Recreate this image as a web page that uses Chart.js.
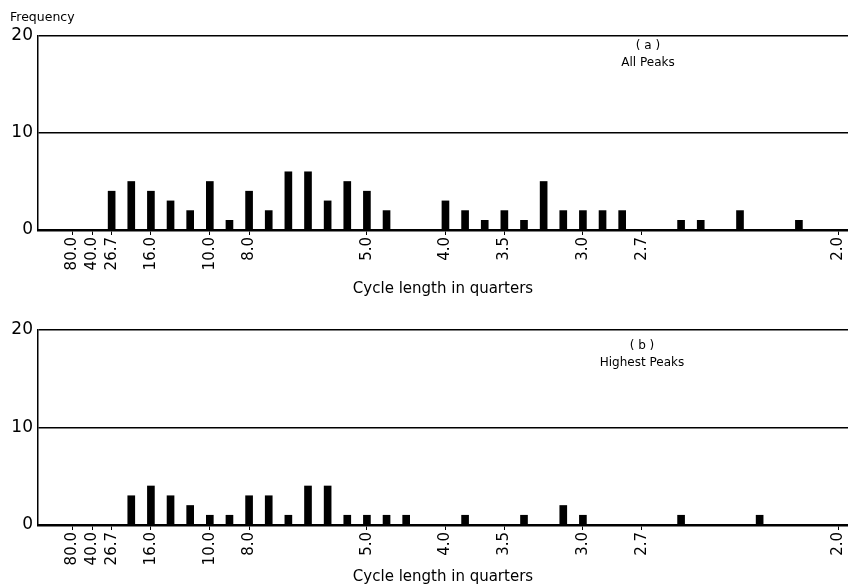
<!DOCTYPE html>
<html>
<head>
<meta charset="utf-8">
<script src="https://cdn.jsdelivr.net/npm/chart.js@4.4.0/dist/chart.umd.min.js"></script>
<style>
  body { margin: 0; background: #fff; font-family: "DejaVu Sans", sans-serif; }
  #wrap { position: relative; width: 848px; height: 588px; overflow: hidden; }
  .panel { position: absolute; left: 0; width: 848px; }
  .lbl { position: absolute; color: #000; white-space: nowrap; }
  .note { position: absolute; text-align: center; font-size: 12px; line-height: 17px; width: 140px; }
</style>
</head>
<body>
<div id="wrap">
  <div class="panel" style="top:0;height:300px"><canvas id="chartA"></canvas></div>
  <div class="panel" style="top:300px;height:288px"><canvas id="chartB"></canvas></div>
  <div class="lbl" style="left:10px;top:9px;font-size:12.5px">Frequency</div>
  <div class="note" style="left:578px;top:37px">( a )<br>All Peaks</div>
  <div class="note" style="left:572px;top:337px">( b )<br>Highest Peaks</div>
</div>
<script>
// harmonic number j (period = 80 / j quarters)
const harmonics = [3, 4, 5, 6, 7, 8, 9, 10, 11, 12, 13, 14, 15, 16, 17,
    20, 21, 22, 23, 24, 25, 26, 27, 28, 29, 32, 33, 35, 38];
const allPeaks = [4, 5, 4, 3, 2, 5, 1, 4, 2, 6, 6, 3, 5, 4, 2,
    3, 2, 1, 2, 1, 5, 2, 2, 2, 2, 1, 1, 2, 1];

const harmonicsB = [4, 5, 6, 7, 8, 9, 10, 11, 12, 13, 14, 15, 16, 17, 18,
    21, 24, 26, 27, 32, 36];
const highestPeaks = [3, 4, 3, 2, 1, 1, 3, 3, 1, 4, 4, 1, 1, 1, 1,
    1, 1, 2, 1, 1, 1];

const tickHarmonics = [1, 2, 3, 5, 8, 10, 16, 20, 23, 27, 30, 40];
const tickLabels = ['80.0', '40.0', '26.7', '16.0', '10.0', '8.0', '5.0', '4.0', '3.5', '3.0', '2.7', '2.0'];

Chart.defaults.font.family = '"DejaVu Sans", sans-serif';
Chart.defaults.color = '#000';

function makeChart(id, xs, ys, axisHeight, topPad) {
    const config = {
        type: 'bar',
        data: {
            datasets: [{
                data: xs.map((x, i) => ({ x: x, y: ys[i] })),
                backgroundColor: '#000',
                borderWidth: 0,
                barThickness: 7,
            }]
        },
        options: {
            responsive: true,
            maintainAspectRatio: false,
            animation: false,
            layout: { padding: { top: topPad, right: 0, left: 8, bottom: 0 } },
            plugins: { legend: { display: false }, tooltip: { enabled: false } },
            scales: {
                x: {
                    type: 'linear',
                    offset: false,
                    min: -0.75,
                    max: 40.5,
                    afterBuildTicks: (axis) => {
                        axis.ticks = tickHarmonics.map(v => ({ value: v }));
                    },
                    afterFit: (scale) => {
                        scale.height = axisHeight;
                        scale.paddingRight = 0;
                        scale.paddingLeft = 0;
                    },
                    ticks: {
                        autoSkip: false,
                        minRotation: 90,
                        maxRotation: 90,
                        padding: 2,
                        font: { size: 15 },
                        callback: (v, i) => tickLabels[i],
                    },
                    grid: {
                        display: true,
                        drawOnChartArea: false,
                        drawTicks: true,
                        tickLength: 5,
                        color: '#000',
                        lineWidth: 1,
                        offset: false,
                    },
                    border: { display: true, color: '#000', width: 2.5 },
                    title: {
                        display: true,
                        text: 'Cycle length in quarters',
                        font: { size: 15 },
                        padding: { top: 0, bottom: 2 },
                    },
                },
                y: {
                    min: 0,
                    max: 20,
                    afterFit: (scale) => { scale.width = 30; },
                    ticks: { stepSize: 10, padding: 5, font: { size: 17 } },
                    grid: { color: '#000', lineWidth: 1.5, drawTicks: false },
                    border: { display: true, color: '#000', width: 1.5 },
                },
            },
        },
    };
    return new Chart(document.getElementById(id), config);
}

makeChart('chartA', harmonics, allPeaks, 70, 36);
makeChart('chartB', harmonicsB, highestPeaks, 63, 30);
</script>
</body>
</html>
